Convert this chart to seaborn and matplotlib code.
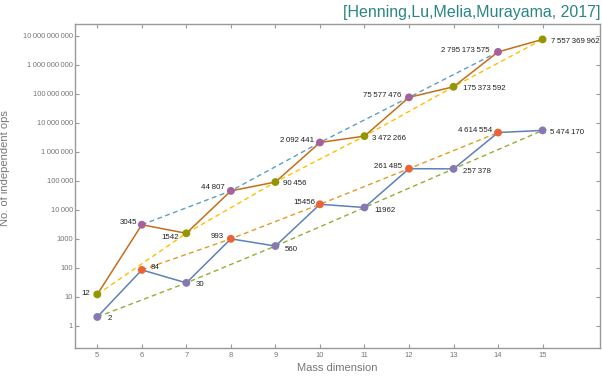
import numpy as np
import pandas as pd
import matplotlib
matplotlib.use("Agg")
import matplotlib.pyplot as plt
from matplotlib.ticker import NullLocator
import seaborn as sns

# ---- data ----
dims = list(range(5, 16))
lower_ops = [2, 84, 30, 993, 560, 15456, 11962, 261485, 257378, 4614554, 5474170]
upper_ops = [12, 3045, 1542, 44807, 90456, 2092441, 3472266, 75577476,
             175373592, 2795173575, 7557369962]
ytick_values = [10 ** k for k in range(11)]
title = "[Henning,Lu,Melia,Murayama, 2017]"
xlabel = "Mass dimension"
ylabel = "No. of independent ops"

THIN = "\u2009"


def fmt(v, threshold):
    s = str(int(v))
    if v < threshold:
        return s
    groups = []
    while len(s) > 3:
        groups.insert(0, s[-3:])
        s = s[:-3]
    groups.insert(0, s)
    return THIN.join(groups)


sns.set_theme(style="white")
plt.rcParams["font.family"] = ["Liberation Sans", "DejaVu Sans"]

df = pd.DataFrame({
    "dim": dims * 2,
    "ops": lower_ops + upper_ops,
    "series": ["lower"] * len(dims) + ["upper"] * len(dims),
})
df["parity"] = np.where(df["dim"] % 2 == 0, "even", "odd")
df["group"] = df["series"] + "_" + df["parity"]

dash_colors = {"lower_even": "#E19C24", "lower_odd": "#8FB032",
               "upper_even": "#5D9EC7", "upper_odd": "#FFBF00"}
marker_colors = {"lower_even": "#EB6235", "lower_odd": "#8778B3",
                 "upper_even": "#A5609D", "upper_odd": "#929600"}
solid_colors = {"lower": "#5E81B5", "upper": "#C56E1A"}

fig = plt.figure(figsize=(6.02, 3.76), dpi=100)
ax = fig.add_axes([0.125, 0.0737, 0.8717, 0.8625])
ax.set_yscale("log")

sns.lineplot(data=df, x="dim", y="ops", hue="group", palette=dash_colors,
             estimator=None, sort=True, linewidth=1.0, legend=False, ax=ax)
for ln in ax.lines:
    ln.set_dashes((3.5, 2.5))

sns.lineplot(data=df, x="dim", y="ops", hue="series", palette=solid_colors,
             estimator=None, sort=True, linewidth=1.1, legend=False, ax=ax)

sns.scatterplot(data=df, x="dim", y="ops", hue="group", palette=marker_colors,
                s=32, edgecolor="none", linewidth=0, legend=False, zorder=5, ax=ax)

# data labels
lower_place = [("l", 10, 2), ("l", 9, -2), ("l", 9, 2), ("r", -7, -2), ("l", 9, 3),
               ("r", -5, -2), ("l", 10, 3), ("r", -7, -2), ("l", 9, 3), ("r", -6, -2),
               ("l", 7, 2)]
upper_place = [("r", -7, -1), ("r", -5, -2), ("r", -7, 4), ("r", -6, -3), ("l", 8, 1),
               ("r", -6, -2), ("l", 8, 2), ("r", -8, -2), ("l", 9, 2), ("r", -8, -1),
               ("l", 8, 2)]
for vals, places, thr in [(lower_ops, lower_place, 100000), (upper_ops, upper_place, 10000)]:
    for d, v, (side, dx, dy) in zip(dims, vals, places):
        ax.annotate(fmt(v, thr), (d, v), xytext=(dx, -dy), textcoords="offset pixels",
                    ha="left" if side == "l" else "right", va="center",
                    fontsize=5.7, color="#222222")

ax.set_xlim(4.505, 16.29)
ax.set_ylim(10 ** -0.78, 10 ** 10.41)
ax.set_xticks(dims)
ax.set_xticklabels([str(d) for d in dims])
ax.set_yticks(ytick_values)
ax.set_yticklabels([fmt(v, 10000) for v in ytick_values])
ax.yaxis.set_minor_locator(NullLocator())
ax.tick_params(axis="both", which="major", direction="in", length=3, width=0.8,
               color="#999999", labelcolor="#777777", labelsize=5.5,
               top=True, right=True, bottom=True, left=True)
ax.tick_params(axis="y", pad=1.5)
ax.tick_params(axis="x", pad=3)
for sp in ax.spines.values():
    sp.set_color("#999999")
    sp.set_linewidth(1.0)

ax.set_xlabel(xlabel, fontsize=8, color="#777777", labelpad=2.5)
ax.set_ylabel(ylabel, fontsize=8, color="#777777")
ax.yaxis.set_label_coords(-0.1245, 0.556)

fig.text(0.997, 1 - 13 / 376, title, ha="right", va="center", fontsize=11.5,
         color="#2b8585")

fig.savefig("out.png", dpi=100)
